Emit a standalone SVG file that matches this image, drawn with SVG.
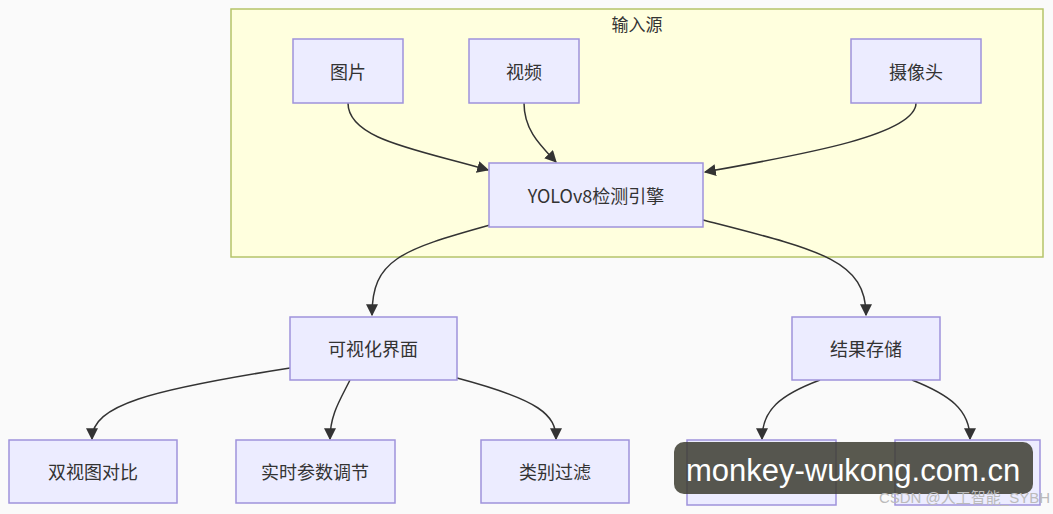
<svg xmlns="http://www.w3.org/2000/svg" width="1053" height="514" viewBox="0 0 1053 514">
<style>
.n rect{fill:#ececff;stroke:#9f93db;stroke-width:1.5}
.n text{font-family:"Noto Sans CJK SC","Liberation Sans",sans-serif;font-size:18px;fill:#333;text-anchor:middle;dominant-baseline:central}
.e path{fill:none;stroke:#333;stroke-width:1.5;marker-end:url(#a)}
</style>
<defs><marker id="a" viewBox="0 0 10 10" refX="9" refY="5" markerWidth="8" markerHeight="8" orient="auto"><path d="M0,0L10,5L0,10z" fill="#333"/></marker></defs>
<rect width="1053" height="514" fill="#fafafa"/>
<g id="cluster"><rect x="231" y="9" width="812" height="248" fill="#ffffde" stroke="#b5c46a" stroke-width="1.5"/>
<text x="637" y="23" font-family="Noto Sans CJK SC,sans-serif" font-size="17" fill="#333" text-anchor="middle" dominant-baseline="central">输入源</text></g>
<g class="e" id="edges">
<path d="M348,103C348,140 420,150 488,170"/>
<path d="M524,103C524,130 540,145 556,162"/>
<path d="M916,103C916,135 800,155 705,172"/>
<path d="M490,225C400,250 372,260 372,315"/>
<path d="M703,220C820,250 866,260 866,315"/>
<path d="M290,368C150,390 92,405 92,439"/>
<path d="M350,380C340,400 330,415 330,439"/>
<path d="M457,378C540,400 556,415 556,439"/>
<path d="M820,380C780,395 762,410 762,439"/>
<path d="M912,380C950,395 970,410 970,439"/>
</g>
<g class="n" id="n1"><rect x="293" y="39" width="110" height="64"/><text x="348" y="71">图片</text></g>
<g class="n" id="n2"><rect x="469" y="39" width="110" height="64"/><text x="524" y="71">视频</text></g>
<g class="n" id="n3"><rect x="851" y="39" width="130" height="64"/><text x="916" y="71">摄像头</text></g>
<g class="n" id="n4"><rect x="489" y="163" width="214" height="64"/><text x="596" y="195">YOLOv8检测引擎</text></g>
<g class="n" id="n5"><rect x="290" y="317" width="167" height="63"/><text x="373" y="348">可视化界面</text></g>
<g class="n" id="n6"><rect x="792" y="317" width="148" height="63"/><text x="866" y="348">结果存储</text></g>
<g class="n" id="n7"><rect x="9" y="440" width="168" height="63"/><text x="93" y="471">双视图对比</text></g>
<g class="n" id="n8"><rect x="236" y="440" width="159" height="63"/><text x="315" y="471">实时参数调节</text></g>
<g class="n" id="n9"><rect x="481" y="440" width="148" height="63"/><text x="555" y="471">类别过滤</text></g>
<g class="n" id="n10"><rect x="687" y="440" width="149" height="65"/></g>
<g class="n" id="n11"><rect x="895" y="440" width="145" height="65"/></g>
<g id="watermark">
<rect x="674" y="442" width="359" height="52" rx="10" fill="#3c3c30" fill-opacity="0.85"/>
<text x="853" y="481" font-family="Liberation Sans,sans-serif" font-size="31" fill="#fff" text-anchor="middle">monkey-wukong.com.cn</text>
<text x="1050" y="503" font-family="Liberation Sans,Noto Sans CJK SC,sans-serif" font-size="15" fill="#bbb" text-anchor="end">CSDN @人工智能_SYBH</text>
</g>
</svg>
